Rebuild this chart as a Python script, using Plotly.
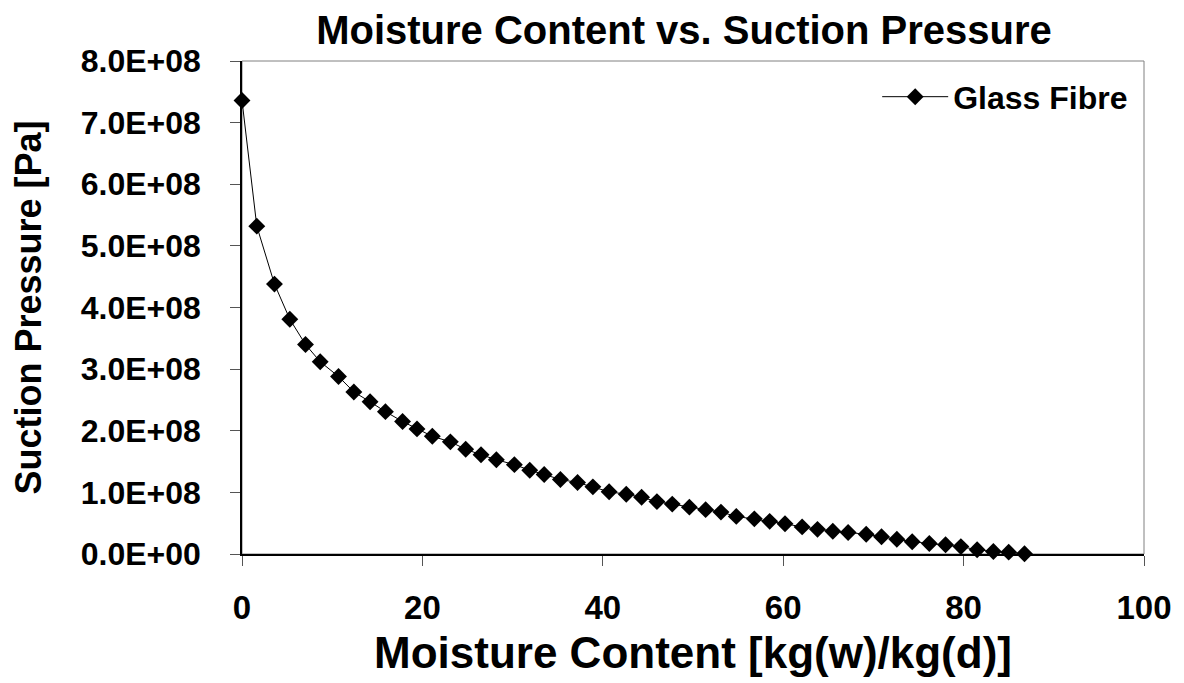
import plotly.graph_objects as go

moisture = [0, 1.64, 3.6, 5.3, 7.04, 8.67, 10.7, 12.4, 14.2, 15.9,
            17.8, 19.4, 21.1, 23.1, 24.8, 26.5, 28.2, 30.2, 31.9, 33.5,
            35.3, 37.2, 38.9, 40.7, 42.6, 44.3, 46.0, 47.7, 49.6, 51.4,
            53.1, 54.8, 56.8, 58.5, 60.2, 62.1, 63.8, 65.5, 67.2, 69.2,
            70.9, 72.6, 74.3, 76.2, 78.0, 79.7, 81.5, 83.3, 85.0, 86.75]
suction = [7.36e8, 5.32e8, 4.38e8, 3.81e8, 3.40e8, 3.12e8, 2.88e8, 2.63e8, 2.47e8, 2.31e8,
           2.15e8, 2.03e8, 1.91e8, 1.82e8, 1.70e8, 1.61e8, 1.53e8, 1.45e8, 1.36e8, 1.29e8,
           1.21e8, 1.16e8, 1.09e8, 1.01e8, 0.97e8, 0.92e8, 0.85e8, 0.81e8, 0.76e8, 0.72e8,
           0.68e8, 0.61e8, 0.57e8, 0.53e8, 0.49e8, 0.44e8, 0.40e8, 0.37e8, 0.35e8, 0.32e8,
           0.28e8, 0.24e8, 0.20e8, 0.17e8, 0.15e8, 0.12e8, 0.07e8, 0.04e8, 0.03e8, 0.005e8]
y_ticks = [0, 1e8, 2e8, 3e8, 4e8, 5e8, 6e8, 7e8, 8e8]
y_ticktext = [f"{v:.1E}" for v in y_ticks]
x_ticks = [0, 20, 40, 60, 80, 100]

FONT = "Liberation Sans, Arial, sans-serif"

fig = go.Figure()
fig.add_trace(go.Scatter(
    x=moisture, y=suction, mode="lines+markers", name="<b>Glass Fibre</b>",
    line=dict(color="black", width=1),
    marker=dict(symbol="diamond", size=13, color="black"),
    cliponaxis=False,
))

fig.update_layout(
    width=1176, height=675,
    margin=dict(l=234, r=40, t=53, b=129, autoexpand=False),
    paper_bgcolor="white", plot_bgcolor="white",
    title=dict(text="<b>Moisture Content vs. Suction Pressure</b>",
               xref="paper", x=0.49, xanchor="center",
               yref="container", y=0.968, yanchor="middle",
               font=dict(family=FONT, size=40, color="black")),
    font=dict(family=FONT, color="black"),
    showlegend=True,
    legend=dict(x=0.988, xanchor="right", y=0.983, yanchor="top", itemwidth=66,
                bgcolor="rgba(0,0,0,0)", font=dict(family=FONT, size=32, color="black")),
    shapes=[dict(type="rect", xref="paper", yref="paper", x0=0, y0=0, x1=1, y1=1,
                 line=dict(color="#808080", width=1), layer="below")],
)
fig.update_xaxes(
    range=[0, 100], tickvals=x_ticks, ticktext=[f"<b>{v}</b>" for v in x_ticks],
    showgrid=False, zeroline=False, showline=True, linecolor="black", linewidth=1.5,
    ticks="outside", ticklen=10, tickcolor="#555", tickwidth=1, automargin=False,
    tickfont=dict(family=FONT, size=33, color="black"), ticklabelstandoff=14,
    title=dict(text="<b>Moisture Content [kg(w)/kg(d)]</b>", standoff=12,
               font=dict(family=FONT, size=44, color="black")),
)
fig.update_yaxes(
    range=[0, 8e8], tickvals=y_ticks, ticktext=[f"<b>{t}</b>" for t in y_ticktext],
    showgrid=False, zeroline=False, showline=True, linecolor="black", linewidth=1.5,
    ticks="outside", ticklen=10, tickcolor="#555", tickwidth=1, automargin=False,
    tickfont=dict(family=FONT, size=32, color="black"), ticklabelstandoff=23,
    title=dict(text="<b>Suction Pressure [Pa]</b>", standoff=33,
               font=dict(family=FONT, size=36, color="black")),
)

fig.write_html("out.html")
